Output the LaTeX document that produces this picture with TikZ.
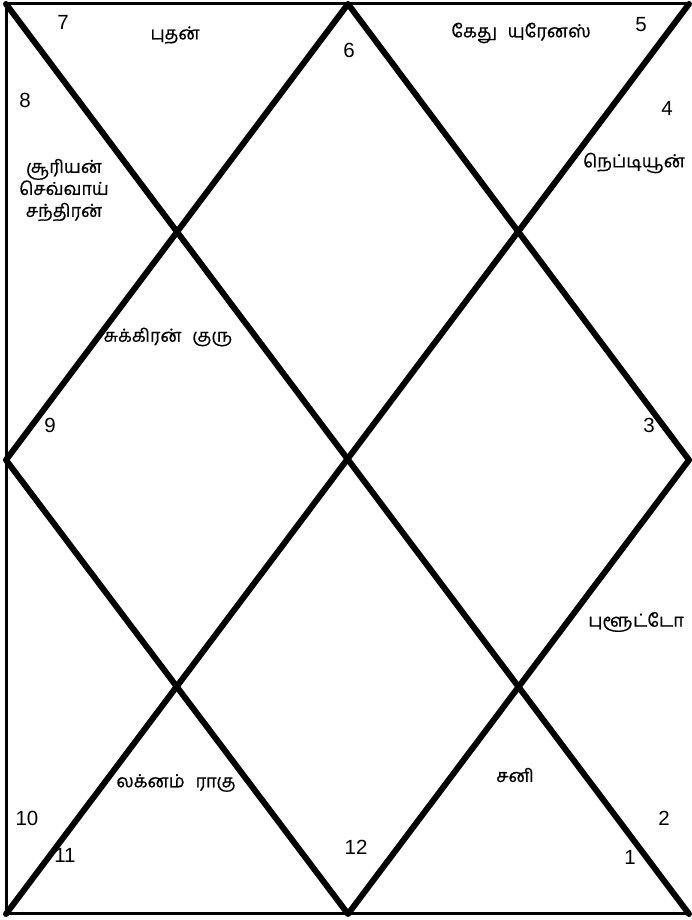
\documentclass[tikz,border=0pt]{standalone}
\usepackage{fontspec}
\setmainfont{Liberation Sans}
\newfontfamily\tamil[Script=Tamil,FakeBold=0.6]{Hind Madurai}
\begin{document}
\begin{tikzpicture}[x=1pt,y=1pt,
  thinline/.style={line width=3pt},
  thickline/.style={line width=6pt,line cap=round,line join=round},
  num/.style={font=\fontsize{20.5}{20.5}\selectfont,inner sep=0pt},
  planet/.style={font=\tamil\fontsize{18}{22}\selectfont,inner sep=0pt,align=center}]
\useasboundingbox (0,0) rectangle (691,920);
% corners and midpoints (y = 920 - pixel row)
\coordinate (TL) at (6,916);
\coordinate (TR) at (689,916);
\coordinate (BL) at (6,6);
\coordinate (BR) at (689,6);
\coordinate (T) at (348,916);
\coordinate (B) at (348,6);
\coordinate (L) at (6,460);
\coordinate (R) at (689,460);
% frame
\draw[thinline] (TL) -- (TR);
\draw[thinline] (BL) -- (BR);
\draw[thinline] (TL) -- (BL);
% diagonals
\draw[thickline] (TL) -- (BR);
\draw[thickline] (TR) -- (BL);
% diamond
\draw[thickline] (T) -- (R) -- (B) -- (L) -- cycle;
% house numbers
\node[num] (n7) at (63,898) {7};
\node[num] (n8) at (25,820) {8};
\node[num] (n6) at (349,870) {6};
\node[num] (n5) at (641,895) {5};
\node[num] (n4) at (667,812) {4};
\node[num] (n9) at (50,495) {9};
\node[num] (n3) at (649,495) {3};
\node[num] (n10) at (27,102) {10};
\node[num] (n11) at (65,65) {11};
\node[num] (n12) at (356,73) {12};
\node[num] (n2) at (664,102) {2};
\node[num] (n1) at (630,63) {1};
% planets
\node[planet] (p7) at (175,885) {புதன்};
\node[planet] (p5) at (521,887) {கேது\hspace{0.6em}யுரேனஸ்};
\node[planet,align=center] (p8) at (64,730) {சூரியன்\\செவ்வாய்\\சந்திரன்};
\node[planet] (p4) at (634,757) {நெப்டியூன்};
\node[planet] (p9) at (168,583) {சுக்கிரன்\hspace{0.6em}குரு};
\node[planet] (p3) at (636,298) {புளூட்டோ};
\node[planet] (p11) at (176,137) {லக்னம்\hspace{0.6em}ராகு};
\node[planet] (p1) at (515,145) {சனி};
\end{tikzpicture}
\end{document}
